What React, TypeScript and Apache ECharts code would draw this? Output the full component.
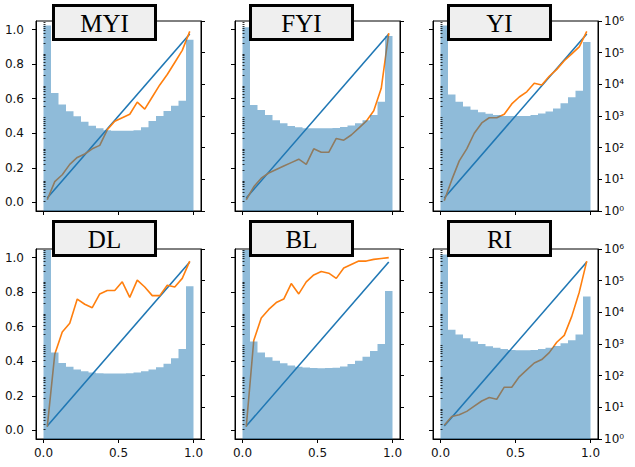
import React, { useEffect, useRef } from 'react';
import * as echarts from 'echarts';

// ---------- data ----------
const titles = ['MYI', 'FYI', 'YI', 'DL', 'BL', 'RI'];
const binCount = 20;

// histogram counts per bin (right log axis)
const myiCounts = [724000, 5370, 2290, 1410, 980, 660, 490, 410, 355, 340, 340, 340, 355, 440, 690, 1000, 1450, 2090, 3020, 257000];
const fyiCounts = [631000, 2240, 1550, 1070, 740, 590, 480, 440, 410, 410, 410, 410, 420, 450, 500, 590, 740, 1070, 2820, 339000];
const yiCounts = [724000, 4790, 2820, 2000, 1580, 1320, 1170, 1070, 1000, 1000, 1000, 1000, 1070, 1200, 1380, 1740, 2510, 3890, 6310, 219000];
const dlCounts = [933000, 537, 251, 191, 158, 138, 126, 120, 117, 117, 117, 120, 126, 138, 158, 186, 240, 355, 692, 66100];
const blCounts = [933000, 1200, 537, 380, 295, 245, 209, 191, 182, 174, 170, 174, 178, 195, 234, 295, 398, 603, 1000, 46800];
const riCounts = [676000, 2820, 2000, 1510, 1200, 1000, 851, 759, 692, 646, 631, 631, 646, 692, 759, 871, 1050, 1320, 2000, 31600];

// calibration curve values at bin centres (left axis)
const myiCalib = [0.015, 0.12, 0.16, 0.22, 0.26, 0.28, 0.31, 0.33, 0.42, 0.47, 0.49, 0.51, 0.58, 0.54, 0.61, 0.68, 0.74, 0.81, 0.88, 0.99];
const fyiCalib = [0.015, 0.09, 0.14, 0.17, 0.19, 0.21, 0.23, 0.25, 0.22, 0.31, 0.29, 0.29, 0.37, 0.36, 0.39, 0.43, 0.47, 0.53, 0.66, 0.98];
const yiCalib = [0.01, 0.13, 0.24, 0.31, 0.4, 0.46, 0.49, 0.49, 0.51, 0.57, 0.61, 0.64, 0.69, 0.68, 0.73, 0.77, 0.82, 0.86, 0.9, 0.99];
const dlCalib = [0.02, 0.44, 0.57, 0.62, 0.76, 0.73, 0.71, 0.79, 0.81, 0.81, 0.86, 0.77, 0.87, 0.83, 0.78, 0.78, 0.84, 0.83, 0.88, 0.98];
const blCalib = [0.02, 0.52, 0.65, 0.7, 0.74, 0.76, 0.85, 0.79, 0.86, 0.9, 0.92, 0.91, 0.88, 0.94, 0.96, 0.98, 0.98, 0.99, 0.995, 1.0];
const riCalib = [0.03, 0.08, 0.09, 0.11, 0.14, 0.17, 0.19, 0.18, 0.25, 0.25, 0.31, 0.35, 0.39, 0.41, 0.45, 0.51, 0.55, 0.66, 0.8, 0.98];

const diagonal = [[0.025, 0.025], [0.975, 0.975]];

const xTicks = [0, 0.5, 1];
const yTicks = [0, 0.2, 0.4, 0.6, 0.8, 1.0];
const logTicks = [1, 10, 100, 1000, 10000, 100000, 1000000];
const logMinorTicks: number[] = [];
for (let d = 0; d < 6; d++) for (let m = 2; m <= 9; m++) logMinorTicks.push(m * Math.pow(10, d));

const allCounts = [myiCounts, fyiCounts, yiCounts, dlCounts, blCounts, riCounts];
const allCalib = [myiCalib, fyiCalib, yiCalib, dlCalib, blCalib, riCalib];

// ---------- layout ----------
const colLeft = [36, 235, 433];
const rowTop = [21, 249];
const gridW = 165;
const gridH = 190;
const boxX = [52, 249, 447];
const boxY = [4, 220];

const sup = ['⁰', '¹', '²', '³', '⁴', '⁵', '⁶'];
const labelFont = '"DejaVu Sans", sans-serif';

export default function App() {
  const ref = useRef<HTMLDivElement>(null);

  useEffect(() => {
    if (!ref.current) return;
    const chart = echarts.init(ref.current, undefined, { renderer: 'svg' });

    const grids: any[] = [];
    const xAxes: any[] = [];
    const yAxes: any[] = [];
    const series: any[] = [];
    const graphics: any[] = [];

    for (let i = 0; i < 6; i++) {
      const r = Math.floor(i / 3);
      const c = i % 3;
      const counts = allCounts[i];
      grids.push({
        left: colLeft[c], top: rowTop[r], width: gridW, height: gridH,
        show: true, borderColor: '#000', borderWidth: 1, backgroundColor: 'transparent',
      });
      xAxes.push({
        gridIndex: i, type: 'value', min: -0.05, max: 1.05, position: 'bottom', z: 5,
        axisLine: { show: true, onZero: false, lineStyle: { color: '#000', width: 1 } },
        axisTick: { show: true, length: 4, customValues: xTicks, lineStyle: { color: '#000' } },
        axisLabel: {
          show: r === 1, customValues: xTicks, formatter: (v: number) => v.toFixed(1),
          fontSize: 12, color: '#111', margin: 8, fontFamily: labelFont,
        },
        splitLine: { show: false },
        minorSplitLine: { show: false },
        splitArea: { show: false },
      });
      yAxes.push({
        gridIndex: i, type: 'value', min: -0.05, max: 1.05, position: 'left', z: 5,
        axisLine: { show: true, onZero: false, lineStyle: { color: '#000', width: 1 } },
        axisTick: { show: true, length: 4, customValues: yTicks, lineStyle: { color: '#000' } },
        axisLabel: {
          show: c === 0, customValues: yTicks, formatter: (v: number) => v.toFixed(1),
          fontSize: 12, color: '#111', margin: 12, fontFamily: labelFont,
        },
        splitLine: { show: false },
        splitArea: { show: false },
      });
      yAxes.push({
        gridIndex: i, type: 'log', logBase: 10, min: 1, max: 1000000, position: 'right', z: 5,
        axisLine: { show: true, onZero: false, lineStyle: { color: '#000', width: 1 } },
        axisTick: { show: true, length: 4, customValues: logTicks, lineStyle: { color: '#000' } },
        axisLabel: {
          show: c === 2, customValues: logTicks,
          formatter: (v: number) => '10' + sup[Math.round(Math.log10(v))],
          fontSize: 12, color: '#111', margin: 6, fontFamily: labelFont,
        },
        splitLine: { show: false },
        splitArea: { show: false },
      });
      yAxes.push({
        gridIndex: i, type: 'log', logBase: 10, min: 1, max: 1000000, position: 'right', z: 5,
        axisLine: { show: false },
        axisTick: { show: true, length: 2, customValues: logMinorTicks, lineStyle: { color: '#000', width: 0.8 } },
        axisLabel: { show: false },
        splitLine: { show: false },
        splitArea: { show: false },
      });

      series.push({
        type: 'line', xAxisIndex: i, yAxisIndex: i * 3, data: diagonal,
        showSymbol: false, symbol: 'none', silent: true, z: 2,
        lineStyle: { color: '#1f77b4', width: 1.6 },
      });
      series.push({
        type: 'line', xAxisIndex: i, yAxisIndex: i * 3,
        data: allCalib[i].map((v, k) => [(k + 0.5) / binCount, v]),
        showSymbol: false, symbol: 'none', silent: true, z: 3,
        lineStyle: { color: '#ff7f0e', width: 1.6 },
      });
      // histogram: one stepped polygon through the axis scales
      series.push({
        type: 'custom', xAxisIndex: i, yAxisIndex: i * 3 + 1, silent: true, z: 4,
        encode: { x: [0, 1], y: 2 },
        data: counts.map((v, k) => [k / binCount, (k + 1) / binCount, v]),
        renderItem: (params: any, api: any) => {
          if (params.dataIndex !== 0) return { type: 'group', children: [] };
          const pts: number[][] = [];
          for (let k = 0; k < counts.length; k++) {
            pts.push(api.coord([k / binCount, counts[k]]));
            pts.push(api.coord([(k + 1) / binCount, counts[k]]));
          }
          pts.push(api.coord([1, 1]));
          pts.push(api.coord([0, 1]));
          return {
            type: 'polygon',
            shape: { points: pts },
            style: { fill: 'rgba(31,119,180,0.5)', stroke: null, lineWidth: 0 },
          };
        },
      });

      const bx = boxX[c];
      const by = boxY[r];
      graphics.push({
        type: 'rect', z: 100,
        shape: { x: bx + 1.5, y: by + 1.5, width: 102, height: 34 },
        style: { fill: '#efefef', stroke: '#000', lineWidth: 3 },
      });
      graphics.push({
        type: 'text', z: 101, x: bx + 52.5, y: by + 19,
        style: {
          text: titles[i], fill: '#000', fontSize: 25,
          fontFamily: '"Liberation Serif", "Times New Roman", serif',
          align: 'center', verticalAlign: 'middle',
        },
      });
    }

    chart.setOption({
      animation: false,
      backgroundColor: '#fff',
      grid: grids,
      xAxis: xAxes,
      yAxis: yAxes,
      series,
      graphic: graphics,
    });

    return () => chart.dispose();
  }, []);

  return (
    <div
      ref={ref}
      style={{ position: 'fixed', left: 0, top: 0, width: 635, height: 467, background: '#fff' }}
    />
  );
}
